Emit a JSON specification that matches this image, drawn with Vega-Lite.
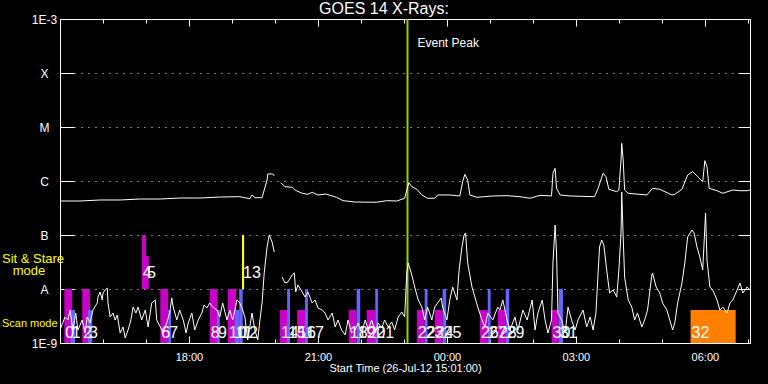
{
"$schema":"https://vega.github.io/schema/vega-lite/v6.json",
"width":690,"height":324,
"autosize":{"type":"none"},
"padding":{"left":60,"top":19,"right":18,"bottom":41},
"background":"black",
"config":{
 "view":{"stroke":"white","strokeWidth":1},
 "axis":{"domainColor":"white","tickColor":"white","labelColor":"white","titleColor":"white","gridColor":"white","labelFont":"Liberation Sans","titleFont":"Liberation Sans","labelFlush":false,"labelOverlap":false,"domainWidth":1,"tickWidth":1}
},
"title":{"text":"GOES 14 X-Rays:","color":"white","font":"Liberation Sans","fontSize":16,"fontWeight":"normal","anchor":"middle","dx":-21,"dy":8,"offset":4},
"datasets":{
"bars":[
{"id":"0","prog":"P1","mode":"scan","start":"2012-07-26T15:06Z","end":"2012-07-26T15:17Z","lo":1e-9,"hi":1e-8},
{"id":"1","prog":"P2","mode":"scan","start":"2012-07-26T15:15Z","end":"2012-07-26T15:21Z","lo":1e-9,"hi":4.08e-9},
{"id":"2","prog":"P1","mode":"scan","start":"2012-07-26T15:31Z","end":"2012-07-26T15:42Z","lo":1e-9,"hi":1e-8},
{"id":"3","prog":"P2","mode":"scan","start":"2012-07-26T15:39Z","end":"2012-07-26T15:45Z","lo":1e-9,"hi":4.08e-9},
{"id":"4","prog":"P1","mode":"sit","start":"2012-07-26T16:54Z","end":"2012-07-26T17:00Z","lo":1e-8,"hi":1e-7},
{"id":"5","prog":"P1","mode":"sit","start":"2012-07-26T17:00Z","end":"2012-07-26T17:04Z","lo":1e-8,"hi":4.08e-8},
{"id":"6","prog":"P1","mode":"scan","start":"2012-07-26T17:20Z","end":"2012-07-26T17:31Z","lo":1e-9,"hi":1e-8},
{"id":"7","prog":"P2","mode":"scan","start":"2012-07-26T17:31Z","end":"2012-07-26T17:35Z","lo":1e-9,"hi":4.08e-9},
{"id":"8","prog":"P1","mode":"scan","start":"2012-07-26T18:29Z","end":"2012-07-26T18:40Z","lo":1e-9,"hi":1e-8},
{"id":"9","prog":"P2","mode":"scan","start":"2012-07-26T18:39Z","end":"2012-07-26T18:43Z","lo":1e-9,"hi":4.08e-9},
{"id":"10","prog":"P1","mode":"scan","start":"2012-07-26T18:54Z","end":"2012-07-26T19:06Z","lo":1e-9,"hi":1e-8},
{"id":"11","prog":"P2","mode":"scan","start":"2012-07-26T19:04Z","end":"2012-07-26T19:10Z","lo":1e-9,"hi":4.08e-9},
{"id":"12","prog":"P2","mode":"scan","start":"2012-07-26T19:10Z","end":"2012-07-26T19:15Z","lo":1e-9,"hi":1e-8},
{"id":"13","prog":"P3","mode":"sit","start":"2012-07-26T19:14Z","end":"2012-07-26T19:17Z","lo":1e-8,"hi":1e-7},
{"id":"14","prog":"P1","mode":"scan","start":"2012-07-26T20:07Z","end":"2012-07-26T20:18Z","lo":1e-9,"hi":4.08e-9},
{"id":"15","prog":"P2","mode":"scan","start":"2012-07-26T20:17Z","end":"2012-07-26T20:21Z","lo":1e-9,"hi":1e-8},
{"id":"16","prog":"P1","mode":"scan","start":"2012-07-26T20:31Z","end":"2012-07-26T20:42Z","lo":1e-9,"hi":4.08e-9},
{"id":"17","prog":"P2","mode":"scan","start":"2012-07-26T20:42Z","end":"2012-07-26T20:46Z","lo":1e-9,"hi":1e-8},
{"id":"18","prog":"P1","mode":"scan","start":"2012-07-26T21:43Z","end":"2012-07-26T21:54Z","lo":1e-9,"hi":4.08e-9},
{"id":"19","prog":"P2","mode":"scan","start":"2012-07-26T21:54Z","end":"2012-07-26T21:59Z","lo":1e-9,"hi":1e-8},
{"id":"20","prog":"P1","mode":"scan","start":"2012-07-26T22:08Z","end":"2012-07-26T22:20Z","lo":1e-9,"hi":4.08e-9},
{"id":"21","prog":"P2","mode":"scan","start":"2012-07-26T22:20Z","end":"2012-07-26T22:24Z","lo":1e-9,"hi":1e-8},
{"id":"22","prog":"P1","mode":"scan","start":"2012-07-26T23:18Z","end":"2012-07-26T23:29Z","lo":1e-9,"hi":4.08e-9},
{"id":"23","prog":"P2","mode":"scan","start":"2012-07-26T23:29Z","end":"2012-07-26T23:33Z","lo":1e-9,"hi":1e-8},
{"id":"24","prog":"P1","mode":"scan","start":"2012-07-26T23:43Z","end":"2012-07-26T23:54Z","lo":1e-9,"hi":4.08e-9},
{"id":"25","prog":"P2","mode":"scan","start":"2012-07-26T23:54Z","end":"2012-07-26T23:59Z","lo":1e-9,"hi":1e-8},
{"id":"26","prog":"P1","mode":"scan","start":"2012-07-27T00:46Z","end":"2012-07-27T00:57Z","lo":1e-9,"hi":4.08e-9},
{"id":"27","prog":"P2","mode":"scan","start":"2012-07-27T00:57Z","end":"2012-07-27T01:01Z","lo":1e-9,"hi":1e-8},
{"id":"28","prog":"P1","mode":"scan","start":"2012-07-27T01:11Z","end":"2012-07-27T01:22Z","lo":1e-9,"hi":4.08e-9},
{"id":"29","prog":"P2","mode":"scan","start":"2012-07-27T01:22Z","end":"2012-07-27T01:27Z","lo":1e-9,"hi":1e-8},
{"id":"30","prog":"P1","mode":"scan","start":"2012-07-27T02:26Z","end":"2012-07-27T02:36Z","lo":1e-9,"hi":4.08e-9},
{"id":"31","prog":"P2","mode":"scan","start":"2012-07-27T02:36Z","end":"2012-07-27T02:42Z","lo":1e-9,"hi":1e-8},
{"id":"32","prog":"P4","mode":"scan","start":"2012-07-27T05:40Z","end":"2012-07-27T06:43Z","lo":1e-9,"hi":4.08e-9}
],
"flux":[
{"t":"2012-07-26T15:00Z","ch":"L","f":4.26e-7},
{"t":"2012-07-26T15:14Z","ch":"L","f":4.26e-7},
{"t":"2012-07-26T15:28Z","ch":"L","f":4.26e-7},
{"t":"2012-07-26T15:56Z","ch":"L","f":4.45e-7},
{"t":"2012-07-26T16:24Z","ch":"L","f":4.45e-7},
{"t":"2012-07-26T16:52Z","ch":"L","f":4.64e-7},
{"t":"2012-07-26T17:20Z","ch":"L","f":4.64e-7},
{"t":"2012-07-26T17:47Z","ch":"L","f":4.84e-7},
{"t":"2012-07-26T18:15Z","ch":"L","f":4.84e-7},
{"t":"2012-07-26T18:43Z","ch":"L","f":5.05e-7},
{"t":"2012-07-26T19:11Z","ch":"L","f":5.12e-7},
{"t":"2012-07-26T19:25Z","ch":"L","f":4.70e-7},
{"t":"2012-07-26T19:28Z","ch":"L","f":5.51e-7},
{"t":"2012-07-26T19:32Z","ch":"L","f":4.91e-7},
{"t":"2012-07-26T19:42Z","ch":"L","f":4.91e-7},
{"t":"2012-07-26T19:45Z","ch":"L","f":6.81e-7},
{"t":"2012-07-26T19:49Z","ch":"L","f":1.04e-6},
{"t":"2012-07-26T19:50Z","ch":"L","f":1.35e-6},
{"t":"2012-07-26T19:57Z","ch":"L","f":1.35e-6},
{"t":"2012-07-26T19:59Z","ch":"L","f":1.24e-6},
{"t":"2012-07-26T20:03Z","ch":"L","f":null},
{"t":"2012-07-26T20:08Z","ch":"L","f":9.31e-7},
{"t":"2012-07-26T20:14Z","ch":"L","f":7.84e-7},
{"t":"2012-07-26T20:24Z","ch":"L","f":7.64e-7},
{"t":"2012-07-26T20:28Z","ch":"L","f":6.81e-7},
{"t":"2012-07-26T20:38Z","ch":"L","f":5.92e-7},
{"t":"2012-07-26T20:46Z","ch":"L","f":5.67e-7},
{"t":"2012-07-26T20:52Z","ch":"L","f":6.18e-7},
{"t":"2012-07-26T21:00Z","ch":"L","f":5.51e-7},
{"t":"2012-07-26T21:11Z","ch":"L","f":5.74e-7},
{"t":"2012-07-26T21:26Z","ch":"L","f":4.99e-7},
{"t":"2012-07-26T21:35Z","ch":"L","f":4.32e-7},
{"t":"2012-07-26T21:52Z","ch":"L","f":4.08e-7},
{"t":"2012-07-26T22:22Z","ch":"L","f":4.04e-7},
{"t":"2012-07-26T22:36Z","ch":"L","f":4.32e-7},
{"t":"2012-07-26T22:50Z","ch":"L","f":4.26e-7},
{"t":"2012-07-26T23:01Z","ch":"L","f":4.78e-7},
{"t":"2012-07-26T23:04Z","ch":"L","f":6.81e-7},
{"t":"2012-07-26T23:07Z","ch":"L","f":9.31e-7},
{"t":"2012-07-26T23:11Z","ch":"L","f":7.84e-7},
{"t":"2012-07-26T23:18Z","ch":"L","f":7.02e-7},
{"t":"2012-07-26T23:25Z","ch":"L","f":5.51e-7},
{"t":"2012-07-26T23:33Z","ch":"L","f":4.78e-7},
{"t":"2012-07-26T23:43Z","ch":"L","f":4.78e-7},
{"t":"2012-07-26T23:47Z","ch":"L","f":5.51e-7},
{"t":"2012-07-27T00:04Z","ch":"L","f":5.51e-7},
{"t":"2012-07-27T00:18Z","ch":"L","f":5.28e-7},
{"t":"2012-07-27T00:22Z","ch":"L","f":9.71e-7},
{"t":"2012-07-27T00:25Z","ch":"L","f":1.33e-6},
{"t":"2012-07-27T00:29Z","ch":"L","f":1.04e-6},
{"t":"2012-07-27T00:32Z","ch":"L","f":5.51e-7},
{"t":"2012-07-27T00:42Z","ch":"L","f":4.99e-7},
{"t":"2012-07-27T01:04Z","ch":"L","f":5.28e-7},
{"t":"2012-07-27T01:24Z","ch":"L","f":5.35e-7},
{"t":"2012-07-27T01:42Z","ch":"L","f":5.12e-7},
{"t":"2012-07-27T01:56Z","ch":"L","f":4.78e-7},
{"t":"2012-07-27T02:10Z","ch":"L","f":5.43e-7},
{"t":"2012-07-27T02:26Z","ch":"L","f":5.28e-7},
{"t":"2012-07-27T02:28Z","ch":"L","f":1.39e-6},
{"t":"2012-07-27T02:31Z","ch":"L","f":1.72e-6},
{"t":"2012-07-27T02:33Z","ch":"L","f":7.33e-7},
{"t":"2012-07-27T02:38Z","ch":"L","f":5.51e-7},
{"t":"2012-07-27T02:52Z","ch":"L","f":5.28e-7},
{"t":"2012-07-27T03:26Z","ch":"L","f":5.12e-7},
{"t":"2012-07-27T03:31Z","ch":"L","f":7.33e-7},
{"t":"2012-07-27T03:38Z","ch":"L","f":1.39e-6},
{"t":"2012-07-27T03:42Z","ch":"L","f":1.20e-6},
{"t":"2012-07-27T03:46Z","ch":"L","f":7.02e-7},
{"t":"2012-07-27T03:57Z","ch":"L","f":6.34e-7},
{"t":"2012-07-27T04:00Z","ch":"L","f":6.81e-7},
{"t":"2012-07-27T04:03Z","ch":"L","f":2.45e-6},
{"t":"2012-07-27T04:04Z","ch":"L","f":4.99e-6},
{"t":"2012-07-27T04:06Z","ch":"L","f":2.45e-6},
{"t":"2012-07-27T04:08Z","ch":"L","f":6.81e-7},
{"t":"2012-07-27T04:13Z","ch":"L","f":5.92e-7},
{"t":"2012-07-27T04:39Z","ch":"L","f":5.51e-7},
{"t":"2012-07-27T04:47Z","ch":"L","f":7.33e-7},
{"t":"2012-07-27T04:57Z","ch":"L","f":7.02e-7},
{"t":"2012-07-27T05:14Z","ch":"L","f":5.51e-7},
{"t":"2012-07-27T05:18Z","ch":"L","f":5.67e-7},
{"t":"2012-07-27T05:28Z","ch":"L","f":7.02e-7},
{"t":"2012-07-27T05:36Z","ch":"L","f":1.29e-6},
{"t":"2012-07-27T05:43Z","ch":"L","f":1.49e-6},
{"t":"2012-07-27T05:50Z","ch":"L","f":1.20e-6},
{"t":"2012-07-27T05:57Z","ch":"L","f":9.71e-7},
{"t":"2012-07-27T06:00Z","ch":"L","f":2.38e-6},
{"t":"2012-07-27T06:03Z","ch":"L","f":1.84e-6},
{"t":"2012-07-27T06:06Z","ch":"L","f":7.33e-7},
{"t":"2012-07-27T06:17Z","ch":"L","f":6.61e-7},
{"t":"2012-07-27T06:25Z","ch":"L","f":5.92e-7},
{"t":"2012-07-27T06:39Z","ch":"L","f":6.81e-7},
{"t":"2012-07-27T06:49Z","ch":"L","f":6.61e-7},
{"t":"2012-07-27T06:59Z","ch":"L","f":6.61e-7},
{"t":"2012-07-27T07:03Z","ch":"L","f":6.81e-7},
{"t":"2012-07-26T15:01Z","ch":"S","f":1.90e-9},
{"t":"2012-07-26T15:07Z","ch":"S","f":3.03e-9},
{"t":"2012-07-26T15:11Z","ch":"S","f":2.67e-9},
{"t":"2012-07-26T15:14Z","ch":"S","f":4.08e-9},
{"t":"2012-07-26T15:18Z","ch":"S","f":1.74e-9},
{"t":"2012-07-26T15:22Z","ch":"S","f":3.59e-9},
{"t":"2012-07-26T15:25Z","ch":"S","f":1.74e-9},
{"t":"2012-07-26T15:31Z","ch":"S","f":2.67e-9},
{"t":"2012-07-26T15:35Z","ch":"S","f":1.53e-9},
{"t":"2012-07-26T15:38Z","ch":"S","f":3.03e-9},
{"t":"2012-07-26T15:42Z","ch":"S","f":2.35e-9},
{"t":"2012-07-26T15:46Z","ch":"S","f":4.08e-9},
{"t":"2012-07-26T15:52Z","ch":"S","f":5.51e-9},
{"t":"2012-07-26T15:53Z","ch":"S","f":7.11e-9},
{"t":"2012-07-26T15:56Z","ch":"S","f":8.80e-9},
{"t":"2012-07-26T15:59Z","ch":"S","f":6.26e-9},
{"t":"2012-07-26T16:00Z","ch":"S","f":8.43e-9},
{"t":"2012-07-26T16:03Z","ch":"S","f":9.58e-9},
{"t":"2012-07-26T16:06Z","ch":"S","f":1.04e-8},
{"t":"2012-07-26T16:07Z","ch":"S","f":5.51e-9},
{"t":"2012-07-26T16:10Z","ch":"S","f":3.03e-9},
{"t":"2012-07-26T16:14Z","ch":"S","f":3.59e-9},
{"t":"2012-07-26T16:17Z","ch":"S","f":2.67e-9},
{"t":"2012-07-26T16:20Z","ch":"S","f":3.30e-9},
{"t":"2012-07-26T16:24Z","ch":"S","f":1.53e-9},
{"t":"2012-07-26T16:28Z","ch":"S","f":1.98e-9},
{"t":"2012-07-26T16:31Z","ch":"S","f":1.24e-9},
{"t":"2012-07-26T16:35Z","ch":"S","f":1.74e-9},
{"t":"2012-07-26T16:39Z","ch":"S","f":2.67e-9},
{"t":"2012-07-26T16:42Z","ch":"S","f":4.64e-9},
{"t":"2012-07-26T16:46Z","ch":"S","f":3.59e-9},
{"t":"2012-07-26T16:49Z","ch":"S","f":4.64e-9},
{"t":"2012-07-26T16:54Z","ch":"S","f":2.67e-9},
{"t":"2012-07-26T16:59Z","ch":"S","f":4.08e-9},
{"t":"2012-07-26T17:03Z","ch":"S","f":1.98e-9},
{"t":"2012-07-26T17:08Z","ch":"S","f":5.51e-9},
{"t":"2012-07-26T17:13Z","ch":"S","f":6.26e-9},
{"t":"2012-07-26T17:15Z","ch":"S","f":2.67e-9},
{"t":"2012-07-26T17:20Z","ch":"S","f":1.98e-9},
{"t":"2012-07-26T17:24Z","ch":"S","f":1.53e-9},
{"t":"2012-07-26T17:29Z","ch":"S","f":2.35e-9},
{"t":"2012-07-26T17:33Z","ch":"S","f":3.59e-9},
{"t":"2012-07-26T17:36Z","ch":"S","f":6.81e-9},
{"t":"2012-07-26T17:38Z","ch":"S","f":4.64e-9},
{"t":"2012-07-26T17:43Z","ch":"S","f":2.67e-9},
{"t":"2012-07-26T17:47Z","ch":"S","f":4.08e-9},
{"t":"2012-07-26T17:52Z","ch":"S","f":2.67e-9},
{"t":"2012-07-26T17:56Z","ch":"S","f":1.53e-9},
{"t":"2012-07-26T17:59Z","ch":"S","f":2.35e-9},
{"t":"2012-07-26T18:04Z","ch":"S","f":3.59e-9},
{"t":"2012-07-26T18:08Z","ch":"S","f":1.74e-9},
{"t":"2012-07-26T18:13Z","ch":"S","f":2.67e-9},
{"t":"2012-07-26T18:18Z","ch":"S","f":3.59e-9},
{"t":"2012-07-26T18:21Z","ch":"S","f":5.05e-9},
{"t":"2012-07-26T18:25Z","ch":"S","f":4.45e-9},
{"t":"2012-07-26T18:29Z","ch":"S","f":5.51e-9},
{"t":"2012-07-26T18:33Z","ch":"S","f":4.64e-9},
{"t":"2012-07-26T18:39Z","ch":"S","f":4.08e-9},
{"t":"2012-07-26T18:43Z","ch":"S","f":3.03e-9},
{"t":"2012-07-26T18:47Z","ch":"S","f":5.51e-9},
{"t":"2012-07-26T18:53Z","ch":"S","f":2.67e-9},
{"t":"2012-07-26T18:57Z","ch":"S","f":4.08e-9},
{"t":"2012-07-26T19:01Z","ch":"S","f":2.67e-9},
{"t":"2012-07-26T19:07Z","ch":"S","f":6.26e-9},
{"t":"2012-07-26T19:11Z","ch":"S","f":5.51e-9},
{"t":"2012-07-26T19:15Z","ch":"S","f":4.08e-9},
{"t":"2012-07-26T19:18Z","ch":"S","f":3.03e-9},
{"t":"2012-07-26T19:22Z","ch":"S","f":1.14e-9},
{"t":"2012-07-26T19:28Z","ch":"S","f":3.59e-9},
{"t":"2012-07-26T19:32Z","ch":"S","f":1.74e-9},
{"t":"2012-07-26T19:36Z","ch":"S","f":1.14e-9},
{"t":"2012-07-26T19:39Z","ch":"S","f":2.67e-9},
{"t":"2012-07-26T19:42Z","ch":"S","f":5.51e-9},
{"t":"2012-07-26T19:45Z","ch":"S","f":1.98e-8},
{"t":"2012-07-26T19:49Z","ch":"S","f":6.0e-8},
{"t":"2012-07-26T19:52Z","ch":"S","f":1.0e-7},
{"t":"2012-07-26T19:56Z","ch":"S","f":7.42e-8},
{"t":"2012-07-26T19:59Z","ch":"S","f":4.84e-8},
{"t":"2012-07-26T20:03Z","ch":"S","f":null},
{"t":"2012-07-26T20:10Z","ch":"S","f":1.67e-8},
{"t":"2012-07-26T20:14Z","ch":"S","f":1.29e-8},
{"t":"2012-07-26T20:18Z","ch":"S","f":1.35e-8},
{"t":"2012-07-26T20:24Z","ch":"S","f":1.82e-8},
{"t":"2012-07-26T20:27Z","ch":"S","f":1.98e-8},
{"t":"2012-07-26T20:29Z","ch":"S","f":8.80e-9},
{"t":"2012-07-26T20:32Z","ch":"S","f":1.19e-8},
{"t":"2012-07-26T20:38Z","ch":"S","f":8.80e-9},
{"t":"2012-07-26T20:42Z","ch":"S","f":7.11e-9},
{"t":"2012-07-26T20:46Z","ch":"S","f":8.80e-9},
{"t":"2012-07-26T20:52Z","ch":"S","f":5.51e-9},
{"t":"2012-07-26T20:56Z","ch":"S","f":6.26e-9},
{"t":"2012-07-26T21:00Z","ch":"S","f":4.45e-9},
{"t":"2012-07-26T21:06Z","ch":"S","f":4.08e-9},
{"t":"2012-07-26T21:10Z","ch":"S","f":3.59e-9},
{"t":"2012-07-26T21:14Z","ch":"S","f":2.67e-9},
{"t":"2012-07-26T21:20Z","ch":"S","f":3.59e-9},
{"t":"2012-07-26T21:24Z","ch":"S","f":1.98e-9},
{"t":"2012-07-26T21:28Z","ch":"S","f":2.67e-9},
{"t":"2012-07-26T21:33Z","ch":"S","f":1.74e-9},
{"t":"2012-07-26T21:38Z","ch":"S","f":1.41e-9},
{"t":"2012-07-26T21:42Z","ch":"S","f":2.67e-9},
{"t":"2012-07-26T21:47Z","ch":"S","f":1.53e-9},
{"t":"2012-07-26T21:52Z","ch":"S","f":1.74e-9},
{"t":"2012-07-26T21:56Z","ch":"S","f":2.35e-9},
{"t":"2012-07-26T22:01Z","ch":"S","f":1.53e-9},
{"t":"2012-07-26T22:06Z","ch":"S","f":2.67e-9},
{"t":"2012-07-26T22:10Z","ch":"S","f":1.74e-9},
{"t":"2012-07-26T22:15Z","ch":"S","f":2.67e-9},
{"t":"2012-07-26T22:20Z","ch":"S","f":1.53e-9},
{"t":"2012-07-26T22:24Z","ch":"S","f":2.35e-9},
{"t":"2012-07-26T22:29Z","ch":"S","f":1.90e-9},
{"t":"2012-07-26T22:33Z","ch":"S","f":2.67e-9},
{"t":"2012-07-26T22:38Z","ch":"S","f":1.98e-9},
{"t":"2012-07-26T22:43Z","ch":"S","f":2.45e-9},
{"t":"2012-07-26T22:47Z","ch":"S","f":1.74e-9},
{"t":"2012-07-26T22:52Z","ch":"S","f":3.03e-9},
{"t":"2012-07-26T22:57Z","ch":"S","f":3.75e-9},
{"t":"2012-07-26T23:01Z","ch":"S","f":3.03e-9},
{"t":"2012-07-26T23:04Z","ch":"S","f":1.98e-8},
{"t":"2012-07-26T23:06Z","ch":"S","f":3.03e-8},
{"t":"2012-07-26T23:11Z","ch":"S","f":1.82e-8},
{"t":"2012-07-26T23:15Z","ch":"S","f":1.09e-8},
{"t":"2012-07-26T23:20Z","ch":"S","f":6.26e-9},
{"t":"2012-07-26T23:25Z","ch":"S","f":4.64e-9},
{"t":"2012-07-26T23:29Z","ch":"S","f":2.67e-9},
{"t":"2012-07-26T23:33Z","ch":"S","f":4.64e-9},
{"t":"2012-07-26T23:39Z","ch":"S","f":2.67e-9},
{"t":"2012-07-26T23:43Z","ch":"S","f":4.64e-9},
{"t":"2012-07-26T23:47Z","ch":"S","f":5.51e-9},
{"t":"2012-07-26T23:52Z","ch":"S","f":6.81e-9},
{"t":"2012-07-26T23:54Z","ch":"S","f":4.64e-9},
{"t":"2012-07-27T00:00Z","ch":"S","f":2.67e-9},
{"t":"2012-07-27T00:04Z","ch":"S","f":6.26e-9},
{"t":"2012-07-27T00:08Z","ch":"S","f":1.09e-8},
{"t":"2012-07-27T00:14Z","ch":"S","f":6.26e-9},
{"t":"2012-07-27T00:17Z","ch":"S","f":2.25e-8},
{"t":"2012-07-27T00:21Z","ch":"S","f":6.0e-8},
{"t":"2012-07-27T00:24Z","ch":"S","f":1.0e-7},
{"t":"2012-07-27T00:26Z","ch":"S","f":1.09e-7},
{"t":"2012-07-27T00:29Z","ch":"S","f":3.03e-8},
{"t":"2012-07-27T00:35Z","ch":"S","f":1.09e-8},
{"t":"2012-07-27T00:39Z","ch":"S","f":7.11e-9},
{"t":"2012-07-27T00:43Z","ch":"S","f":4.64e-9},
{"t":"2012-07-27T00:49Z","ch":"S","f":2.67e-9},
{"t":"2012-07-27T00:53Z","ch":"S","f":1.98e-9},
{"t":"2012-07-27T00:57Z","ch":"S","f":3.59e-9},
{"t":"2012-07-27T01:04Z","ch":"S","f":2.67e-9},
{"t":"2012-07-27T01:11Z","ch":"S","f":4.64e-9},
{"t":"2012-07-27T01:14Z","ch":"S","f":4.08e-9},
{"t":"2012-07-27T01:18Z","ch":"S","f":6.26e-9},
{"t":"2012-07-27T01:24Z","ch":"S","f":2.67e-9},
{"t":"2012-07-27T01:28Z","ch":"S","f":1.74e-9},
{"t":"2012-07-27T01:35Z","ch":"S","f":3.03e-9},
{"t":"2012-07-27T01:39Z","ch":"S","f":1.74e-9},
{"t":"2012-07-27T01:46Z","ch":"S","f":4.08e-9},
{"t":"2012-07-27T01:52Z","ch":"S","f":2.67e-9},
{"t":"2012-07-27T01:59Z","ch":"S","f":6.26e-9},
{"t":"2012-07-27T02:03Z","ch":"S","f":1.74e-9},
{"t":"2012-07-27T02:07Z","ch":"S","f":3.59e-9},
{"t":"2012-07-27T02:13Z","ch":"S","f":6.26e-9},
{"t":"2012-07-27T02:17Z","ch":"S","f":2.67e-9},
{"t":"2012-07-27T02:21Z","ch":"S","f":1.53e-9},
{"t":"2012-07-27T02:26Z","ch":"S","f":2.67e-9},
{"t":"2012-07-27T02:28Z","ch":"S","f":3.03e-8},
{"t":"2012-07-27T02:31Z","ch":"S","f":1.53e-7},
{"t":"2012-07-27T02:33Z","ch":"S","f":4.64e-8},
{"t":"2012-07-27T02:35Z","ch":"S","f":3.59e-9},
{"t":"2012-07-27T02:40Z","ch":"S","f":2.67e-9},
{"t":"2012-07-27T02:45Z","ch":"S","f":1.53e-9},
{"t":"2012-07-27T02:49Z","ch":"S","f":4.64e-9},
{"t":"2012-07-27T02:54Z","ch":"S","f":2.67e-9},
{"t":"2012-07-27T02:59Z","ch":"S","f":1.74e-9},
{"t":"2012-07-27T03:03Z","ch":"S","f":2.67e-9},
{"t":"2012-07-27T03:10Z","ch":"S","f":4.08e-9},
{"t":"2012-07-27T03:15Z","ch":"S","f":1.98e-9},
{"t":"2012-07-27T03:20Z","ch":"S","f":3.03e-9},
{"t":"2012-07-27T03:24Z","ch":"S","f":1.74e-9},
{"t":"2012-07-27T03:28Z","ch":"S","f":3.59e-9},
{"t":"2012-07-27T03:31Z","ch":"S","f":1.98e-8},
{"t":"2012-07-27T03:33Z","ch":"S","f":6.0e-8},
{"t":"2012-07-27T03:36Z","ch":"S","f":8.08e-8},
{"t":"2012-07-27T03:39Z","ch":"S","f":6.53e-8},
{"t":"2012-07-27T03:43Z","ch":"S","f":2.25e-8},
{"t":"2012-07-27T03:47Z","ch":"S","f":8.43e-9},
{"t":"2012-07-27T03:52Z","ch":"S","f":9.58e-9},
{"t":"2012-07-27T03:57Z","ch":"S","f":7.11e-9},
{"t":"2012-07-27T04:00Z","ch":"S","f":2.25e-8},
{"t":"2012-07-27T04:03Z","ch":"S","f":1.09e-7},
{"t":"2012-07-27T04:04Z","ch":"S","f":6.26e-7},
{"t":"2012-07-27T04:06Z","ch":"S","f":9.18e-8},
{"t":"2012-07-27T04:08Z","ch":"S","f":1.67e-8},
{"t":"2012-07-27T04:13Z","ch":"S","f":6.26e-9},
{"t":"2012-07-27T04:18Z","ch":"S","f":4.64e-9},
{"t":"2012-07-27T04:22Z","ch":"S","f":2.67e-9},
{"t":"2012-07-27T04:26Z","ch":"S","f":3.59e-9},
{"t":"2012-07-27T04:32Z","ch":"S","f":1.98e-9},
{"t":"2012-07-27T04:36Z","ch":"S","f":2.67e-9},
{"t":"2012-07-27T04:40Z","ch":"S","f":4.08e-9},
{"t":"2012-07-27T04:46Z","ch":"S","f":1.82e-8},
{"t":"2012-07-27T04:47Z","ch":"S","f":1.98e-8},
{"t":"2012-07-27T04:52Z","ch":"S","f":1.09e-8},
{"t":"2012-07-27T04:57Z","ch":"S","f":8.43e-9},
{"t":"2012-07-27T05:01Z","ch":"S","f":5.51e-9},
{"t":"2012-07-27T05:07Z","ch":"S","f":4.08e-9},
{"t":"2012-07-27T05:11Z","ch":"S","f":2.67e-9},
{"t":"2012-07-27T05:15Z","ch":"S","f":1.74e-9},
{"t":"2012-07-27T05:18Z","ch":"S","f":2.35e-9},
{"t":"2012-07-27T05:22Z","ch":"S","f":5.51e-9},
{"t":"2012-07-27T05:28Z","ch":"S","f":1.29e-8},
{"t":"2012-07-27T05:32Z","ch":"S","f":3.03e-8},
{"t":"2012-07-27T05:36Z","ch":"S","f":9.18e-8},
{"t":"2012-07-27T05:42Z","ch":"S","f":1.24e-7},
{"t":"2012-07-27T05:45Z","ch":"S","f":1.09e-7},
{"t":"2012-07-27T05:49Z","ch":"S","f":6.0e-8},
{"t":"2012-07-27T05:53Z","ch":"S","f":3.91e-8},
{"t":"2012-07-27T05:57Z","ch":"S","f":2.25e-8},
{"t":"2012-07-27T06:01Z","ch":"S","f":2.55e-7},
{"t":"2012-07-27T06:03Z","ch":"S","f":3.44e-8},
{"t":"2012-07-27T06:07Z","ch":"S","f":1.09e-8},
{"t":"2012-07-27T06:11Z","ch":"S","f":9.58e-9},
{"t":"2012-07-27T06:17Z","ch":"S","f":6.26e-9},
{"t":"2012-07-27T06:21Z","ch":"S","f":4.08e-9},
{"t":"2012-07-27T06:25Z","ch":"S","f":4.64e-9},
{"t":"2012-07-27T06:31Z","ch":"S","f":3.59e-9},
{"t":"2012-07-27T06:35Z","ch":"S","f":5.51e-9},
{"t":"2012-07-27T06:39Z","ch":"S","f":6.26e-9},
{"t":"2012-07-27T06:45Z","ch":"S","f":9.58e-9},
{"t":"2012-07-27T06:49Z","ch":"S","f":1.29e-8},
{"t":"2012-07-27T06:53Z","ch":"S","f":8.43e-9},
{"t":"2012-07-27T06:59Z","ch":"S","f":1.09e-8},
{"t":"2012-07-27T07:03Z","ch":"S","f":9.58e-9}
],
"notes":[
{"t":"2012-07-26T13:39Z","f":3.6e-8,"label":"Sit & Stare","group":"sit"},
{"t":"2012-07-26T13:54Z","f":2.15e-8,"label":"mode","group":"sit"},
{"t":"2012-07-26T13:39Z","f":2.25e-9,"label":"Scan mode","group":"scan"}
],
"peak":[{"t":"2012-07-26T23:05Z","f":3.6e-4,"label":"Event Peak"}]
},
"resolve":{"axis":{"x":"independent","y":"independent"}},
"layer":[
{"data":{"name":"bars"},
 "mark":{"type":"rect","clip":true},
 "encoding":{
  "x":{"field":"start","type":"temporal","scale":{"type":"utc","domain":[{"year":2012,"month":7,"date":26,"hours":15,"minutes":0,"utc":true},{"year":2012,"month":7,"date":27,"hours":7,"minutes":3,"utc":true}]},
   "axis":{"orient":"bottom","format":"%H:%M","values":[{"year":2012,"month":7,"date":26,"hours":18,"utc":true},{"year":2012,"month":7,"date":26,"hours":21,"utc":true},{"year":2012,"month":7,"date":27,"hours":0,"utc":true},{"year":2012,"month":7,"date":27,"hours":3,"utc":true},{"year":2012,"month":7,"date":27,"hours":6,"utc":true}],
   "tickSize":-7,"labelPadding":15,"labelFontSize":11,"labelBaseline":"top","grid":false,"title":"Start Time (26-Jul-12 15:01:00)","titleFontSize":11,"titleFontWeight":"normal","titlePadding":0}},
  "x2":{"field":"end"},
  "y":{"field":"lo","type":"quantitative","scale":{"type":"log","domain":[1e-9,1e-3]},
   "axis":{"orient":"left","values":[1e-9,1e-8,1e-7,1e-6,1e-5,1e-4,1e-3],"labelExpr":"datum.value < 5e-9 ? '1E-9' : datum.value < 5e-8 ? 'A' : datum.value < 5e-7 ? 'B' : datum.value < 5e-6 ? 'C' : datum.value < 5e-5 ? 'M' : datum.value < 5e-4 ? 'X' : '1E-3'","tickSize":-14,"labelPadding":30,"labelAlign":"center","labelBaseline":"middle","labelFontSize":12,"grid":true,"gridDash":[1,6],"gridWidth":1,"title":null}},
  "y2":{"field":"hi"},
  "color":{"field":"prog","type":"nominal","scale":{"domain":["P1","P2","P3","P4"],"range":["#c800c8","#6464ff","#ffff00","#ff8000"]},"legend":null}
 }},
{"data":{"name":"peak"},
 "mark":{"type":"rule","color":"#9acd00","strokeWidth":2},
 "encoding":{"x":{"field":"t","type":"temporal",
   "axis":{"orient":"bottom","labels":false,"domain":false,"grid":false,"title":null,"tickSize":-4,"values":[{"year":2012,"month":7,"date":26,"hours":16,"utc":true},{"year":2012,"month":7,"date":26,"hours":17,"utc":true},{"year":2012,"month":7,"date":26,"hours":19,"utc":true},{"year":2012,"month":7,"date":26,"hours":20,"utc":true},{"year":2012,"month":7,"date":26,"hours":22,"utc":true},{"year":2012,"month":7,"date":26,"hours":23,"utc":true},{"year":2012,"month":7,"date":27,"hours":1,"utc":true},{"year":2012,"month":7,"date":27,"hours":2,"utc":true},{"year":2012,"month":7,"date":27,"hours":4,"utc":true},{"year":2012,"month":7,"date":27,"hours":5,"utc":true},{"year":2012,"month":7,"date":27,"hours":7,"utc":true}]}}}},
{"data":{"name":"flux"},
 "mark":{"type":"line","color":"white","strokeWidth":1,"clip":true},
 "encoding":{
  "x":{"field":"t","type":"temporal",
   "axis":{"orient":"top","labels":false,"domain":false,"grid":false,"title":null,"tickSize":-7,"values":[{"year":2012,"month":7,"date":26,"hours":18,"utc":true},{"year":2012,"month":7,"date":26,"hours":21,"utc":true},{"year":2012,"month":7,"date":27,"hours":0,"utc":true},{"year":2012,"month":7,"date":27,"hours":3,"utc":true},{"year":2012,"month":7,"date":27,"hours":6,"utc":true}]}},
  "y":{"field":"f","type":"quantitative","axis":{"orient":"right","labels":false,"domain":false,"grid":false,"title":null,"values":[1e-9,1e-8,1e-7,1e-6,1e-5,1e-4,1e-3],"tickSize":-12}},
  "detail":{"field":"ch","type":"nominal"}
 }},
{"data":{"name":"bars"},
 "transform":[{"filter":"datum.mode == 'scan'"}],
 "mark":{"type":"text","color":"white","font":"Liberation Sans","fontSize":16,"align":"left","baseline":"alphabetic","dx":1,"dy":-5},
 "encoding":{
  "x":{"field":"start","type":"temporal","axis":null},
  "y":{"field":"lo","type":"quantitative","axis":null},
  "text":{"field":"id"}
 }},
{"data":{"name":"bars"},
 "transform":[{"filter":"datum.mode == 'sit'"}],
 "mark":{"type":"text","color":"white","font":"Liberation Sans","fontSize":16,"align":"left","baseline":"alphabetic","dx":1,"dy":-11},
 "encoding":{
  "x":{"field":"start","type":"temporal","axis":null},
  "y":{"field":"lo","type":"quantitative","axis":null},
  "text":{"field":"id"}
 }},
{"data":{"name":"notes"},
 "transform":[{"filter":"datum.group == 'sit'"}],
 "mark":{"type":"text","color":"#ffff00","font":"Liberation Sans","fontSize":13,"align":"left","baseline":"middle"},
 "encoding":{
  "x":{"field":"t","type":"temporal","axis":null},
  "y":{"field":"f","type":"quantitative","axis":null},
  "text":{"field":"label"}
 }},
{"data":{"name":"notes"},
 "transform":[{"filter":"datum.group == 'scan'"}],
 "mark":{"type":"text","color":"#ffff00","font":"Liberation Sans","fontSize":11,"align":"left","baseline":"middle"},
 "encoding":{
  "x":{"field":"t","type":"temporal","axis":null},
  "y":{"field":"f","type":"quantitative","axis":null},
  "text":{"field":"label"}
 }},
{"data":{"name":"peak"},
 "mark":{"type":"text","color":"white","font":"Liberation Sans","fontSize":12,"align":"left","baseline":"middle","dx":10},
 "encoding":{
  "x":{"field":"t","type":"temporal",
   "axis":{"orient":"top","labels":false,"domain":false,"grid":false,"title":null,"tickSize":-4,"values":[{"year":2012,"month":7,"date":26,"hours":16,"utc":true},{"year":2012,"month":7,"date":26,"hours":17,"utc":true},{"year":2012,"month":7,"date":26,"hours":19,"utc":true},{"year":2012,"month":7,"date":26,"hours":20,"utc":true},{"year":2012,"month":7,"date":26,"hours":22,"utc":true},{"year":2012,"month":7,"date":26,"hours":23,"utc":true},{"year":2012,"month":7,"date":27,"hours":1,"utc":true},{"year":2012,"month":7,"date":27,"hours":2,"utc":true},{"year":2012,"month":7,"date":27,"hours":4,"utc":true},{"year":2012,"month":7,"date":27,"hours":5,"utc":true},{"year":2012,"month":7,"date":27,"hours":7,"utc":true}]}},
  "y":{"field":"f","type":"quantitative","axis":null},
  "text":{"field":"label"}
 }}
]
}
